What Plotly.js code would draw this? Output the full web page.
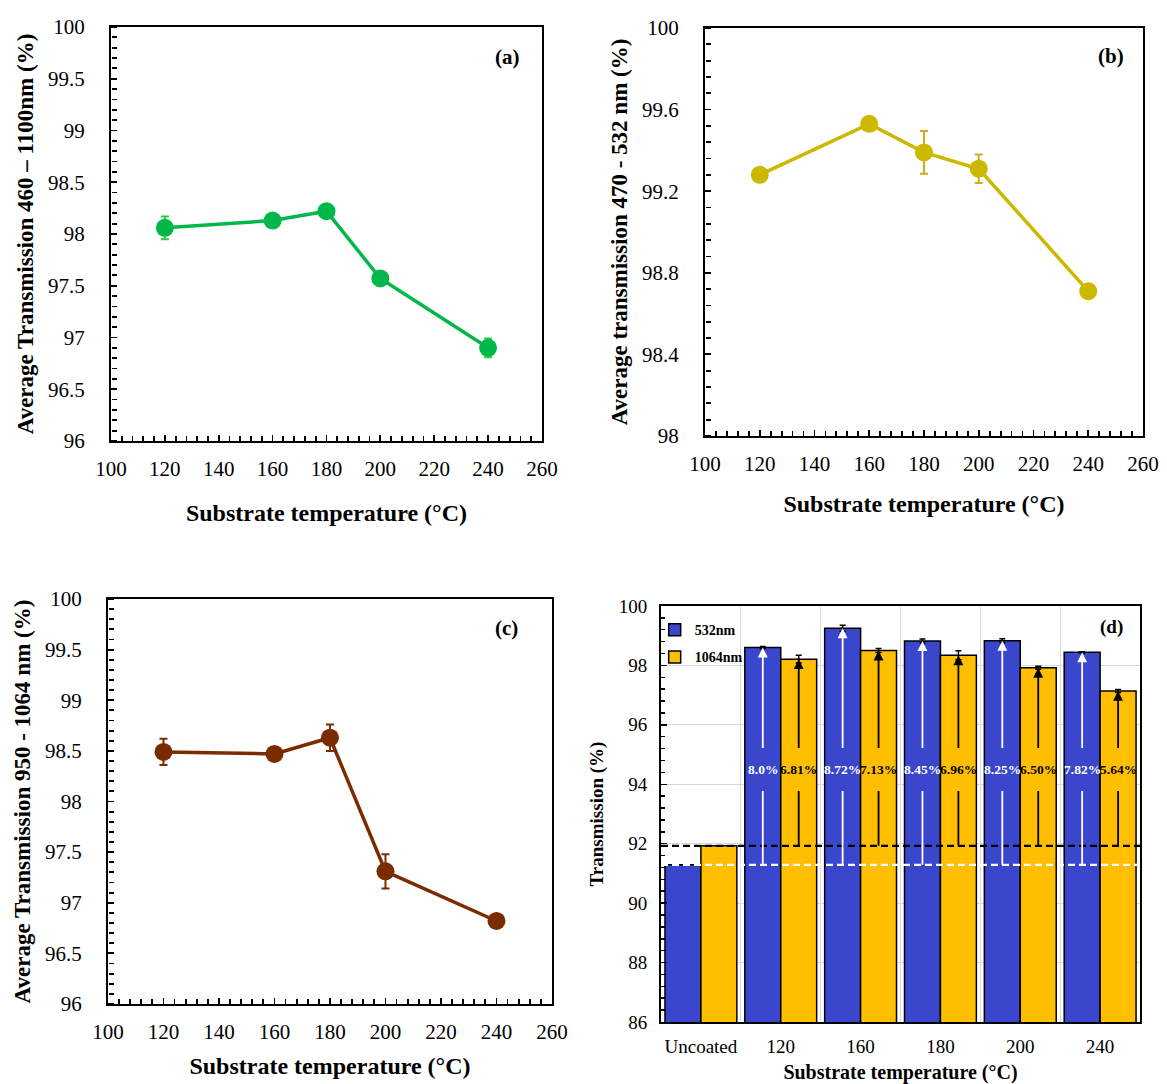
<!DOCTYPE html>
<html><head><meta charset="utf-8">
<script src="https://cdn.plot.ly/plotly-3.0.1.min.js"></script>
<style>html,body{margin:0;padding:0;background:#fff}#chart{width:1167px;height:1084px}</style>
</head><body><div id="chart"></div><script>
// ---------- data ----------
const temps = [120, 160, 180, 200, 240];
const transA = [98.06, 98.13, 98.22, 97.57, 96.90];
const errA = [0.11, 0.03, 0.03, 0.03, 0.09];
const transB = [99.28, 99.53, 99.39, 99.31, 98.71];
const errB = [0.02, 0.02, 0.105, 0.07, 0.02];
const transC = [98.49, 98.47, 98.63, 97.31, 96.82];
const errC = [0.13, 0.02, 0.13, 0.17, 0.02];
const categoriesD = ['Uncoated', '120', '160', '180', '200', '240'];
const trans532 = [91.29, 98.60, 99.25, 98.82, 98.83, 98.44];
const err532 = [0, 0.04, 0.10, 0.07, 0.07, 0.02];
const trans1064 = [91.93, 98.21, 98.50, 98.34, 97.92, 97.14];
const err1064 = [0, 0.13, 0.07, 0.15, 0.05, 0.05];
const gain532 = ['', '8.0%', '8.72%', '8.45%', '8.25%', '7.82%'];
const gain1064 = ['', '6.81%', '7.13%', '6.96%', '6.50%', '5.64%'];

// ---------- style ----------
const W = 1167;
const FONT = '"Liberation Serif", "Times New Roman", serif';
const BLUE = '#3a46cb', GOLD = '#ffbf00';
const LABEL_Y = 94.5;       // vertical position of percentage labels in (d)
const HALF = 0.225;         // bar centre offset within a group (bargap 0.1, 2 bars)
const TL = 6;               // y tick length (px)

function lineTrace(y, err, color, ecolor, xa, ya) {
  return {type: 'scatter', mode: 'lines+markers', x: temps, y: y, xaxis: xa, yaxis: ya,
    line: {color: color, width: 3.5}, marker: {color: color, size: 18},
    error_y: {type: 'data', array: err, visible: true, color: ecolor, thickness: 2, width: 4},
    showlegend: false, hoverinfo: 'x+y'};
}
function helper(xa, ya) {  // empty trace so the tick-only overlay axis is drawn
  return {type: 'scatter', mode: 'lines', x: [], y: [], xaxis: xa, yaxis: ya, showlegend: false, hoverinfo: 'skip'};
}

const idx = categoriesD.map((_, i) => i);
const traces = [
  lineTrace(transA, errA, '#00b84a', '#2ccf3a', 'x', 'y'),
  lineTrace(transB, errB, '#cdb800', '#d8a81a', 'x2', 'y2'),
  lineTrace(transC, errC, '#7a2c00', '#7a2c00', 'x3', 'y3'),
  {type: 'bar', name: '<b>532nm</b>', x: idx, y: trans532, xaxis: 'x4', yaxis: 'y4',
   marker: {color: BLUE, line: {color: '#000', width: 1.5}}, legendgroup: 'a',
   error_y: {type: 'data', array: err532, visible: true, color: '#000', thickness: 1.5, width: 3}},
  {type: 'bar', name: '<b>1064nm</b>', x: idx, y: trans1064, xaxis: 'x4', yaxis: 'y4',
   marker: {color: GOLD, line: {color: '#000', width: 1.5}}, legendgroup: 'b',
   error_y: {type: 'data', array: err1064, visible: true, color: '#000', thickness: 1.5, width: 3}},
  {type: 'scatter', mode: 'lines', x: [-0.5, categoriesD.length - 0.5], y: [trans1064[0], trans1064[0]],
   xaxis: 'x4', yaxis: 'y4', line: {color: '#000', width: 2.2, dash: '7px,4px'}, showlegend: false, hoverinfo: 'skip'},
  {type: 'scatter', mode: 'lines', x: [-0.5, categoriesD.length - 0.5], y: [trans532[0], trans532[0]],
   xaxis: 'x4', yaxis: 'y4', line: {color: '#fff', width: 2.2, dash: '7px,4px'}, showlegend: false, hoverinfo: 'skip'},
  helper('x', 'y5'), helper('x2', 'y6'), helper('x3', 'y7')
];

function xLine(domain, anchor, standoff) {
  return {domain: domain, anchor: anchor, range: [100, 260], tick0: 100, dtick: 20,
    ticks: 'inside', ticklen: 6, tickwidth: 1.8, tickcolor: '#000',
    minor: {tick0: 100, dtick: 4, ticks: 'inside', ticklen: 5, tickwidth: 1.8, tickcolor: '#000'},
    showline: true, linecolor: '#000', linewidth: 2, mirror: true, showgrid: false, zeroline: false,
    tickfont: {family: FONT, size: 21, color: '#000'}, ticklabelstandoff: 8,
    title: {text: '<b>Substrate temperature (°C)</b>', font: {family: FONT, size: 24, color: '#000'}, standoff: standoff}};
}
function yLine(domain, anchor, range, dtick, title) {
  return {domain: domain, anchor: anchor, range: range, tick0: range[0], dtick: dtick, ticks: '',
    showline: true, linecolor: '#000', linewidth: 2, mirror: true, showgrid: false, zeroline: false,
    tickfont: {family: FONT, size: 21, color: '#000'}, ticklabelstandoff: 20,
    title: {text: '<b>' + title + '</b>', font: {family: FONT, size: 23, color: '#000'}, standoff: 8}};
}
// tick-only axis: outside ticks of a free axis placed just inside the frame, so they point into the plot
function yTicks(over, xDomainLeft, range, dtick, minorDt) {
  return {overlaying: over, anchor: 'free', side: 'left', position: xDomainLeft + (TL + 0.5) / W,
    range: range, tick0: range[0], dtick: dtick, ticks: 'outside', ticklen: TL, tickwidth: 1.8, tickcolor: '#000',
    minor: {tick0: range[0], dtick: minorDt, ticks: 'outside', ticklen: TL - 1, tickwidth: 1.8, tickcolor: '#000'},
    showticklabels: false, showline: false, showgrid: false, zeroline: false};
}

const annotations = [
  {text: '<b>(a)</b>', xref: 'x domain', yref: 'y domain', x: 0.919, y: 0.928},
  {text: '<b>(b)</b>', xref: 'x2 domain', yref: 'y2 domain', x: 0.928, y: 0.932},
  {text: '<b>(c)</b>', xref: 'x3 domain', yref: 'y3 domain', x: 0.898, y: 0.928},
  {text: '<b>(d)</b>', xref: 'x4 domain', yref: 'y4 domain', x: 0.94, y: 0.95}
].map((a, k) => Object.assign(a, {showarrow: false, xanchor: 'center', yanchor: 'middle',
  font: {family: FONT, size: k === 3 ? 19 : 21, color: '#000'}}));

for (let i = 1; i < categoriesD.length; i++) {
  const groups = [
    {xc: i - HALF, top: trans532[i], base: trans532[0], txt: gain532[i], col: '#fff'},
    {xc: i + HALF, top: trans1064[i], base: trans1064[0], txt: gain1064[i], col: '#000'}
  ];
  groups.forEach(g => {
    const common = {xref: 'x4', yref: 'y4', axref: 'x4', ayref: 'y4', x: g.xc, ax: g.xc, ay: LABEL_Y,
      showarrow: true, arrowcolor: g.col, arrowwidth: 1.8, standoff: 0, startstandoff: 0, height: 40};
    annotations.push(Object.assign({}, common, {y: g.top, text: '<b>' + g.txt + '</b>', arrowhead: 2, arrowsize: 1.1,
      font: {family: FONT, size: 13.5, color: g.col}}));
    annotations.push(Object.assign({}, common, {y: g.base, text: '<b>' + g.txt + '</b>', arrowhead: 0,
      font: {family: FONT, size: 13.5, color: 'rgba(0,0,0,0)'}}));
  });
}

const dA = [0.0951, 0.4644], dB = [0.6041, 0.9794], dC = [0.0925, 0.4730];
const layout = {
  width: W, height: 1084, margin: {l: 0, r: 0, t: 0, b: 0},
  paper_bgcolor: '#fff', plot_bgcolor: '#fff',
  font: {family: FONT, color: '#000'},
  barmode: 'group', bargap: 0.1, bargroupgap: 0,
  xaxis: xLine(dA, 'y', 24),
  yaxis: yLine([0.5932, 0.9751], 'x', [96, 100], 0.5, 'Average Transmission 460 – 1100nm (%)'),
  yaxis5: yTicks('y', dA[0], [96, 100], 0.5, 0.1),
  xaxis2: xLine(dB, 'y2', 20),
  yaxis2: yLine([0.5978, 0.9742], 'x2', [98, 100], 0.4, 'Average transmission 470 - 532 nm (%)'),
  yaxis6: yTicks('y2', dB[0], [98, 100], 0.4, 0.08),
  xaxis3: xLine(dC, 'y3', 14),
  yaxis3: yLine([0.0738, 0.4474], 'x3', [96, 100], 0.5, 'Average Transmission 950 - 1064 nm (%)'),
  yaxis7: yTicks('y3', dC[0], [96, 100], 0.5, 0.1),
  xaxis4: {domain: [0.5664, 0.9769], anchor: 'y4', range: [-0.5, categoriesD.length - 0.5],
    tickmode: 'array', tickvals: idx, ticktext: categoriesD, ticks: '', showgrid: false,
    minor: {tickmode: 'array', tickvals: idx.map(i => i + 0.5), showgrid: true, gridcolor: '#d9d9d9', gridwidth: 1, ticks: ''},
    showline: true, linecolor: '#000', linewidth: 2, mirror: true, zeroline: false,
    tickfont: {family: FONT, size: 19, color: '#000'}, ticklabelstandoff: 6,
    title: {text: '<b>Substrate temperature (°C)</b>', font: {family: FONT, size: 20, color: '#000'}, standoff: 10}},
  yaxis4: {domain: [0.0572, 0.4410], anchor: 'x4', range: [86, 100], tick0: 86, dtick: 2,
    ticks: 'inside', ticklen: 6, tickwidth: 1.5, tickcolor: '#000',
    minor: {tick0: 86, dtick: 0.4, ticks: 'inside', ticklen: 4, tickwidth: 1.5, tickcolor: '#000'},
    showgrid: true, gridcolor: '#d9d9d9', gridwidth: 1,
    showline: true, linecolor: '#000', linewidth: 2, mirror: true, zeroline: false,
    tickfont: {family: FONT, size: 19, color: '#000'}, ticklabelstandoff: 8,
    title: {text: '<b>Transmission (%)</b>', font: {family: FONT, size: 19, color: '#000'}, standoff: 10}},
  showlegend: true,
  legend: {x: 0.561, y: 0.4335, xanchor: 'left', yanchor: 'top', bgcolor: 'rgba(0,0,0,0)',
    font: {family: FONT, size: 14, color: '#000'}, tracegroupgap: 6, traceorder: 'grouped'},
  annotations: annotations
};

Plotly.newPlot('chart', traces, layout, {staticPlot: true});
</script></body></html>
